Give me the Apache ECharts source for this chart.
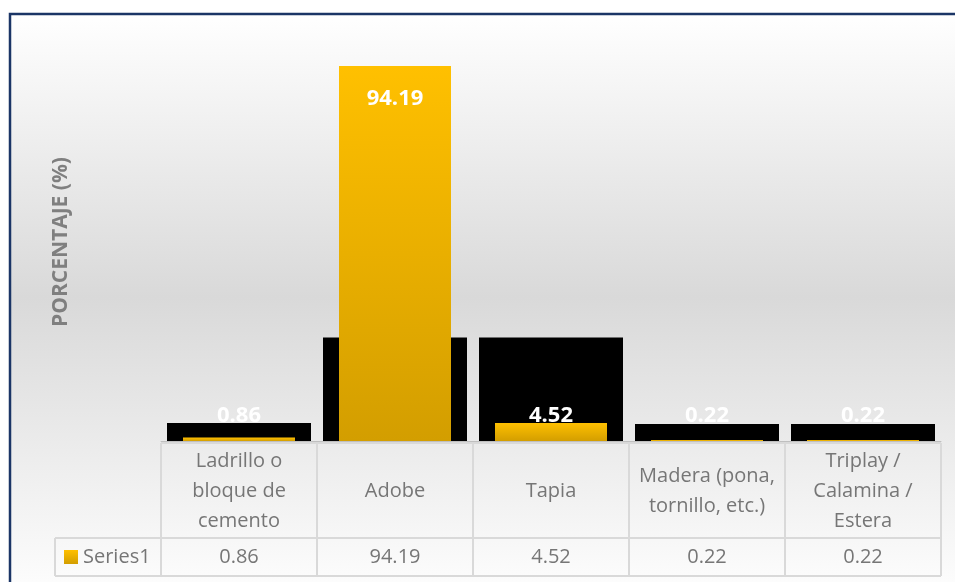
<!DOCTYPE html>
<html>
<head>
<meta charset="utf-8">
<script src="https://cdn.jsdelivr.net/npm/echarts@6/dist/echarts.min.js"></script>
<style>
html,body{margin:0;padding:0;background:#ffffff;}
#chart{width:955px;height:582px;}
</style>
</head>
<body>
<div id="chart"></div>
<script>
// ---- data ----
const categories = [
  'Ladrillo o\nbloque de\ncemento',
  'Adobe',
  'Tapia',
  'Madera (pona,\ntornillo, etc.)',
  'Triplay /\nCalamina /\nEstera'
];
const seriesName = 'Series1';
const values = [0.86, 94.19, 4.52, 0.22, 0.22];
// dark blocks visible behind the bars in the reference picture
const shadowBlocks = [4.5, 26, 26, 4.25, 4.25];
const axisTitle = 'PORCENTAJE (%)';

// ---- layout ----
const FONT = "'Open Sans', 'Noto Sans', sans-serif";
const gridLeft = 161, gridRight = 14, gridTop = 43, gridBottom = 141;
const W = 955, H = 582;
const plotRight = W - gridRight;
const baseY = H - gridBottom;
const catW = (plotRight - gridLeft) / categories.length;
const tableTop = baseY + 2, rowSplit = 538, tableBottom = 576, legendLeft = 55;
const lineColor = '#d9d9d9';

const goldGrad = new echarts.graphic.LinearGradient(0, 0, 0, 1, [
  {offset: 0, color: '#FFC000'},
  {offset: 1, color: '#D39E00'}
]);

const barData = values.map(v => ({
  value: v,
  label: v > 50
    ? {position: 'insideTop', distance: 22}
    : {position: 'insideBottom', distance: 14}
}));

const graphics = [];
// background panel with border
graphics.push({
  type: 'rect', z: -10, silent: true,
  shape: {x: 10, y: 14, width: 960, height: 590},
  style: {
    fill: new echarts.graphic.LinearGradient(0, 0, 0, 1, [
      {offset: 0, color: '#ffffff'},
      {offset: 0.48, color: '#d9d9d9'},
      {offset: 1, color: '#ffffff'}
    ]),
    stroke: '#1B3566', lineWidth: 2.5
  }
});
function hline(y, x1, x2) {
  graphics.push({type: 'line', z: 5, silent: true,
    shape: {x1: x1, y1: y, x2: x2, y2: y},
    style: {stroke: lineColor, lineWidth: 2}});
}
function vline(x, y1, y2) {
  graphics.push({type: 'line', z: 5, silent: true,
    shape: {x1: x, y1: y1, x2: x, y2: y2},
    style: {stroke: lineColor, lineWidth: 2}});
}
hline(tableTop, gridLeft, plotRight);
hline(rowSplit, legendLeft, plotRight);
hline(tableBottom, legendLeft, plotRight);
for (let i = 0; i <= categories.length; i++) {
  vline(gridLeft + catW * i, tableTop, tableBottom);
}
vline(legendLeft, rowSplit, tableBottom);
// legend key inside data table
graphics.push({
  type: 'rect', z: 6, silent: true,
  shape: {x: 64, y: 550, width: 14, height: 14},
  style: {fill: new echarts.graphic.LinearGradient(0, 0, 0, 1, [
    {offset: 0, color: '#FFC000'}, {offset: 1, color: '#D39E00'}])}
});
graphics.push({
  type: 'text', z: 6, silent: true,
  x: 83, y: (rowSplit + tableBottom) / 2,
  style: {text: seriesName, font: '20px ' + FONT, fill: '#767676',
    verticalAlign: 'middle', align: 'left'}
});

const chart = echarts.init(document.getElementById('chart'));
chart.setOption({
  animation: false,
  backgroundColor: 'transparent',
  graphic: graphics,
  grid: {left: gridLeft, right: gridRight, top: gridTop, bottom: gridBottom, containLabel: false},
  xAxis: [{
    type: 'category',
    data: categories,
    position: 'bottom',
    axisLine: {show: true, lineStyle: {color: '#bfbfbf', width: 1}},
    axisTick: {show: false},
    axisLabel: {
      interval: 0, margin: 50, verticalAlign: 'middle',
      fontFamily: FONT, fontSize: 20, lineHeight: 30, color: '#767676'
    }
  }, {
    type: 'category',
    data: values.map(v => v.toFixed(2)),
    position: 'bottom',
    axisLine: {show: false},
    axisTick: {show: false},
    axisLabel: {
      interval: 0, margin: (rowSplit + tableBottom) / 2 - baseY, verticalAlign: 'middle',
      fontFamily: FONT, fontSize: 20, color: '#767676'
    }
  }],
  yAxis: {
    type: 'value', min: 0, max: 100,
    name: axisTitle, nameLocation: 'middle', nameGap: 89, nameRotate: 90,
    nameTextStyle: {fontFamily: FONT, fontSize: 21, fontWeight: 'bold', color: '#7f7f7f'},
    axisLine: {show: false}, axisTick: {show: false},
    axisLabel: {show: false}, splitLine: {show: false}
  },
  series: [{
    name: 'shadow',
    type: 'bar',
    xAxisIndex: 1,
    data: shadowBlocks,
    barWidth: 144,
    itemStyle: {color: '#000000'},
    z: 1,
    silent: true
  }, {
    name: seriesName,
    type: 'bar',
    xAxisIndex: 0,
    data: barData,
    barWidth: 112,
    itemStyle: {color: goldGrad},
    z: 3,
    label: {
      show: true,
      color: '#ffffff',
      fontFamily: FONT,
      fontSize: 22,
      fontWeight: 'bold',
      formatter: p => p.value.toFixed(2)
    }
  }]
});
</script>
</body>
</html>
